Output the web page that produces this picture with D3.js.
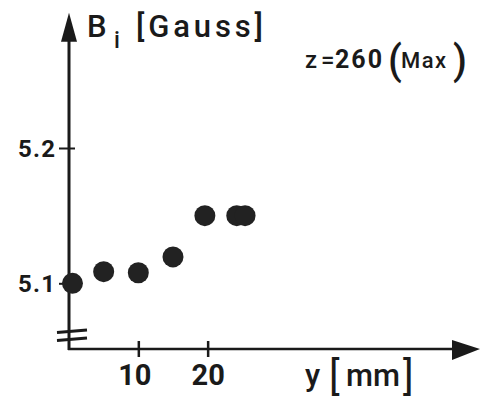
<!DOCTYPE html>
<html>
<head>
<meta charset="utf-8">
<script src="https://cdn.jsdelivr.net/npm/d3@7"></script>
<style>
  body { margin: 0; background: #fff; }
  svg { display: block; }
  text { font-family: Roboto, 'Liberation Sans', Arial, sans-serif; font-weight: 500; fill: #1a1a1a; }
</style>
</head>
<body>
<div id="chart"></div>
<script>
// values
const yPos = [0.5, 5, 10, 15, 19.6, 24.2, 25.4]          // y [mm]
const bField = [5.100, 5.1086, 5.1078, 5.1195, 5.150, 5.150, 5.150]  // B_i [Gauss]
const xTicks = [10, 20]
const yTicks = [5.1, 5.2]
const yTickLabels = ['5.1', '5.2']

const width = 482
const height = 401
const ink = '#1a1a1a'

const svg = d3.select('#chart')
  .append('svg')
    .attr('width', width)
    .attr('height', height)

// scales (the axes run on past the data up to the arrow heads)
const x = d3.scaleLinear().domain([0, 59]).range([69, 478])
const y = d3.scaleLinear().domain([5.1, 5.3]).range([283.3, 12.7])
const xAxisY = 349   // x axis sits below the broken y axis

// axis lines
const axesG = svg.append('g').classed('axes', true)
axesG.append('line')
  .attr('x1', x(0)).attr('x2', x(0))
  .attr('y1', xAxisY + 1).attr('y2', y(5.3) + 26)
  .attr('stroke', ink).attr('stroke-width', 3)
axesG.append('line')
  .attr('x1', x(0) - 1).attr('x2', x(59) - 26)
  .attr('y1', xAxisY).attr('y2', xAxisY)
  .attr('stroke', ink).attr('stroke-width', 2.5)

// arrow heads
const yTop = y(5.3)
axesG.append('path')
  .attr('d', 'M' + x(0) + ',' + yTop + 'L' + (x(0) + 8) + ',' + (yTop + 29) + 'L' + (x(0) - 8) + ',' + (yTop + 29) + 'Z')
  .attr('fill', ink)
const xEnd = x(59) + 2
axesG.append('path')
  .attr('d', 'M' + xEnd + ',' + xAxisY + 'L' + (xEnd - 28) + ',' + (xAxisY - 9) + 'L' + (xEnd - 28) + ',' + (xAxisY + 11) + 'Z')
  .attr('fill', ink)

// axis break marks
axesG.selectAll('line.break')
  .data([0, 8])
  .enter()
  .append('line')
    .classed('break', true)
    .attr('x1', x(0) - 12).attr('x2', x(0) + 18)
    .attr('y1', d => 332.5 + d).attr('y2', d => 330 + d)
    .attr('stroke', ink).attr('stroke-width', 3)

// x axis ticks
const xAxisG = axesG.append('g')
  .classed('x-axis', true)
  .attr('transform', 'translate(0,' + xAxisY + ')')
  .call(d3.axisBottom(x).tickValues(xTicks).tickSize(8).tickPadding(26).tickFormat(d3.format('d')))
xAxisG.select('.domain').remove()
xAxisG.selectAll('.tick line')
  .attr('y1', -8).attr('y2', 8)
  .attr('stroke', ink).attr('stroke-width', 2.5)
xAxisG.selectAll('.tick text')
  .attr('font-family', null)
  .attr('dy', null)
  .attr('y', 36)
  .attr('dx', d => d === 10 ? -4 : 0)
  .style('font-size', '29px')
  .style('font-weight', 'bold')
  .attr('fill', ink)

// y axis ticks
const yAxisG = axesG.append('g')
  .classed('y-axis', true)
  .attr('transform', 'translate(' + x(0) + ',0)')
  .call(d3.axisLeft(y).tickValues(yTicks).tickSize(10).tickPadding(4)
    .tickFormat((d, i) => yTickLabels[i]))
yAxisG.select('.domain').remove()
yAxisG.selectAll('.tick line')
  .attr('x1', 6).attr('x2', -10)
  .attr('stroke', ink).attr('stroke-width', 2)
yAxisG.selectAll('.tick text')
  .attr('font-family', null)
  .attr('dy', '0.36em')
  .style('font-size', '24px')
  .style('font-weight', 'bold')
  .attr('textLength', 37)
  .attr('fill', ink)

// axis titles
const labelsG = svg.append('g').classed('labels', true)
labelsG.append('text').attr('x', 87).attr('y', 37)
  .style('font-size', '31px').text('B')
labelsG.append('text').attr('x', 114).attr('y', 48)
  .style('font-size', '23px').text('i')
labelsG.append('text').attr('x', 136).attr('y', 37)
  .style('font-size', '31px')
  .attr('textLength', 127).attr('lengthAdjust', 'spacing')
  .text('[Gauss]')

labelsG.append('text').attr('x', 305).attr('y', 386)
  .style('font-size', '31px').text('y')
labelsG.append('text').attr('x', 329).attr('y', 390)
  .style('font-size', '40px').style('font-weight', 'normal').text('[')
labelsG.append('text').attr('x', 346).attr('y', 386)
  .style('font-size', '31px').attr('textLength', 54).text('mm')
labelsG.append('text').attr('x', 403).attr('y', 390)
  .style('font-size', '40px').style('font-weight', 'normal').text(']')

// annotation
labelsG.append('text').attr('x', 305).attr('y', 68)
  .style('font-size', '24px').text('z')
labelsG.append('text').attr('x', 321).attr('y', 68)
  .style('font-size', '24px').text('=')
labelsG.append('text').attr('x', 335).attr('y', 68)
  .style('font-size', '25px').style('font-weight', 'bold')
  .attr('textLength', 47).text('260')
labelsG.append('text').attr('x', 388).attr('y', 74)
  .style('font-size', '40px').text('(')
labelsG.append('text').attr('x', 401).attr('y', 68)
  .style('font-size', '22px')
  .attr('textLength', 45).text('Max')
labelsG.append('text').attr('x', 453).attr('y', 74)
  .style('font-size', '40px').text(')')

// data points
svg.append('g')
  .classed('points', true)
  .selectAll('circle')
  .data(yPos.map((d, i) => ({x: d, b: bField[i]})))
  .enter()
  .append('circle')
    .attr('cx', d => x(d.x))
    .attr('cy', d => y(d.b))
    .attr('r', 10.5)
    .attr('fill', '#222')
</script>
</body>
</html>
